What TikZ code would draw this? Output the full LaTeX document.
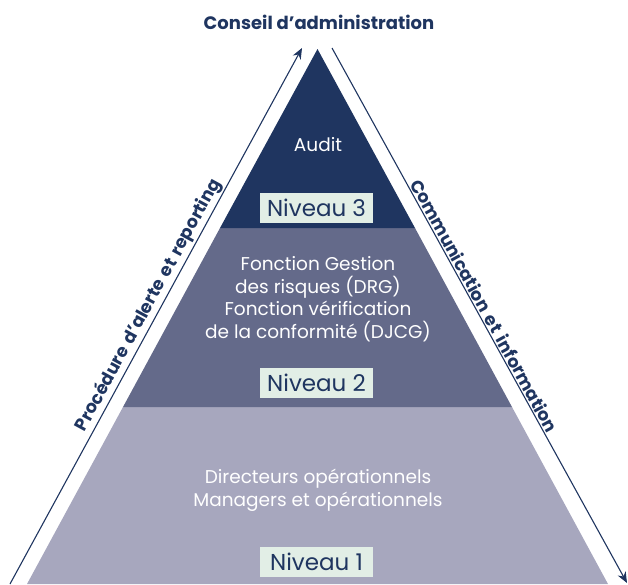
\documentclass[tikz,border=0pt]{standalone}
\usepackage{fontspec}
\setmainfont{Poppins}
\newfontfamily\sidefont{Poppins}[WordSpace=1.6]
\usetikzlibrary{arrows.meta}
\definecolor{navy}{HTML}{1F3560}
\definecolor{midband}{HTML}{646A8A}
\definecolor{lowband}{HTML}{A7A7BE}
\definecolor{mint}{HTML}{E2EEE6}

\begin{document}
\begin{tikzpicture}[x=1pt,y=-1pt,>={Stealth[length=11pt,width=9pt]},semithick]

    \tikzstyle{level}=[fill=mint,text=navy,font=\fontsize{23}{23}\selectfont,minimum width=113pt,minimum height=30pt,inner sep=0pt]
    \tikzstyle{band text}=[text=white,font=\fontsize{18.5}{22.5}\selectfont,align=center]
    \tikzstyle{side}=[draw=navy,line width=1.1pt]
    \tikzstyle{side label}=[text=navy,font=\sidefont\bfseries\fontsize{17.5}{17.5}\selectfont,sloped,inner sep=1.5pt]

    \useasboundingbox (0,0) rectangle (628,584);

    % pyramid bands
    \fill[lowband] (123,407) -- (512,407) -- (608,584) -- (27,584) -- cycle;
    \fill[midband] (220,228) -- (415,228) -- (512,407) -- (123,407) -- cycle;
    \fill[navy] (317.5,49) -- (415,228) -- (220,228) -- cycle;

    \node[text=navy,font=\bfseries\fontsize{18}{18}\selectfont] (board) at (319,22) {Conseil d’administration};

    \node[band text] (audit) at (318,145) {Audit};
    \node[level]     (n3)    at (316.5,208) {Niveau 3};
    \node[band text] (risk)  at (318,299) {Fonction Gestion\\des risques (DRG)\\Fonction vérification\\de la conformité (DJCG)};
    \node[level]     (n2)    at (316.5,383) {Niveau 2};
    \node[band text] (ops)   at (318,490.5) {Directeurs opérationnels\\Managers et opérationnels};
    \node[level]     (n1)    at (316.5,562) {Niveau 1};

    \coordinate (up0) at (10,584);
    \coordinate (up1) at (302,48);
    \coordinate (down0) at (332,48);
    \coordinate (down1) at (627,583);

    \draw[side,->] (up0) -- node[side label,above,pos=0.51] {Procédure d’alerte et reporting} (up1);
    \draw[side,->] (down0) -- node[side label,above,pos=0.49] {Communication et information} (down1);

\end{tikzpicture}
\end{document}
